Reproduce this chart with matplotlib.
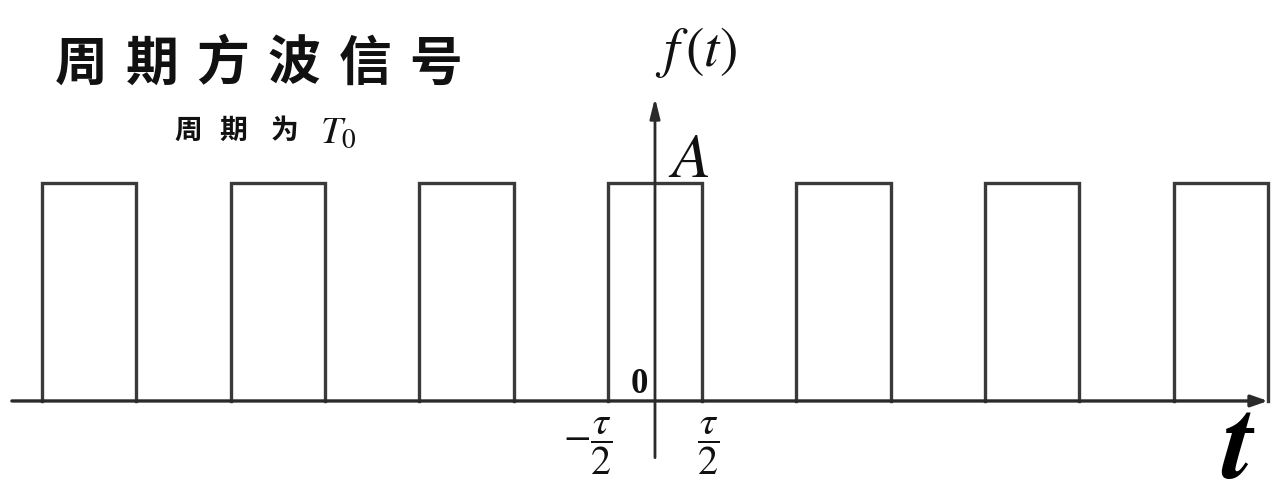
# Periodic rectangular pulse train f(t) with period T0 and pulse width tau

import matplotlib
matplotlib.use('Agg')
import matplotlib.pyplot as plt

plt.rcParams['mathtext.fontset'] = 'stix'

# Signal description (tau = 1, T0 = 2, amplitude A = 1)
amplitude = 1.0
pulse_left = [-6.5, -4.5, -2.5, -0.5, 1.5, 3.5, 5.5]
pulse_right = [-5.5, -3.5, -1.5, 0.5, 2.5, 4.5, 6.5]

title_chars = ['周', '期', '方', '波', '信', '号']
subtitle_chars = ['周', '期', '为']

# Axis extents in signal units
t_axis = (-6.82, 6.5)
f_axis = (-0.26, 1.39)

line_col = '#3a3a3a'
axis_col = '#2a2a2a'

fig = plt.figure(figsize=(12.75, 5.03), dpi=100, facecolor='white')
ax = fig.add_axes([0, 0, 1, 1])
ax.set_xlim(-6.946, 6.575)
ax.set_ylim(-0.468, 1.839)
ax.axis('off')

# Pulses
for left, right in zip(pulse_left, pulse_right):
    ax.plot([left, left, right, right], [0, amplitude, amplitude, 0],
            color=line_col, linewidth=2.4, solid_joinstyle='miter',
            zorder=2)

# Time axis and amplitude axis with arrow heads
ax.annotate('', xy=(t_axis[1], 0), xytext=(t_axis[0], 0),
            arrowprops=dict(arrowstyle='-|>,head_length=1.0,head_width=0.35',
                            color=axis_col, linewidth=2.4,
                            shrinkA=0, shrinkB=0), zorder=3)
ax.annotate('', xy=(0, f_axis[1]), xytext=(0, f_axis[0]),
            arrowprops=dict(arrowstyle='-|>,head_length=1.2,head_width=0.3',
                            color=axis_col, linewidth=2.0,
                            shrinkA=0, shrinkB=0), zorder=3)

W, H = 1275.0, 503.0


def fpos(px, py):
    return px / W, 1 - py / H


cjk = ['Noto Sans CJK SC', 'DejaVu Sans']

# Title, one character at a time to get the wide spacing
for i, ch in enumerate(title_chars):
    fig.text(*fpos(81 + 71 * i, 64), ch, family=cjk, weight='heavy',
             fontsize=38, ha='center', va='center', color='#111111')

for x, ch in zip([188, 233, 285], subtitle_chars):
    fig.text(*fpos(x, 131), ch, family=cjk, weight='heavy',
             fontsize=20, ha='center', va='center', color='#111111')
fig.text(*fpos(320, 143), r'$T_0$', fontsize=28, ha='left',
         va='baseline', color='#111111')

# Axis labels
fig.text(*fpos(696, 53), r'$f\,\left(t\right)$', fontsize=40,
         ha='center', va='center', color='#111111')
fig.text(*fpos(668, 177), r'$A$', fontsize=46, ha='left',
         va='baseline', color='#111111')
fig.text(*fpos(639, 393), '0', family='Liberation Serif', weight='bold',
         fontsize=25, ha='center', va='baseline', color='#111111')
fig.text(*fpos(588, 446), r'$-\dfrac{\tau}{2}$', fontsize=29,
         ha='center', va='center', color='#111111')
fig.text(*fpos(708, 446), r'$\dfrac{\tau}{2}$', fontsize=29,
         ha='center', va='center', color='#111111')
fig.text(*fpos(1238, 501), r'$\mathbfit{t}$', fontsize=80, ha='center',
         va='bottom', color='#000000')

fig.savefig('out.png', dpi=100, facecolor='white')
